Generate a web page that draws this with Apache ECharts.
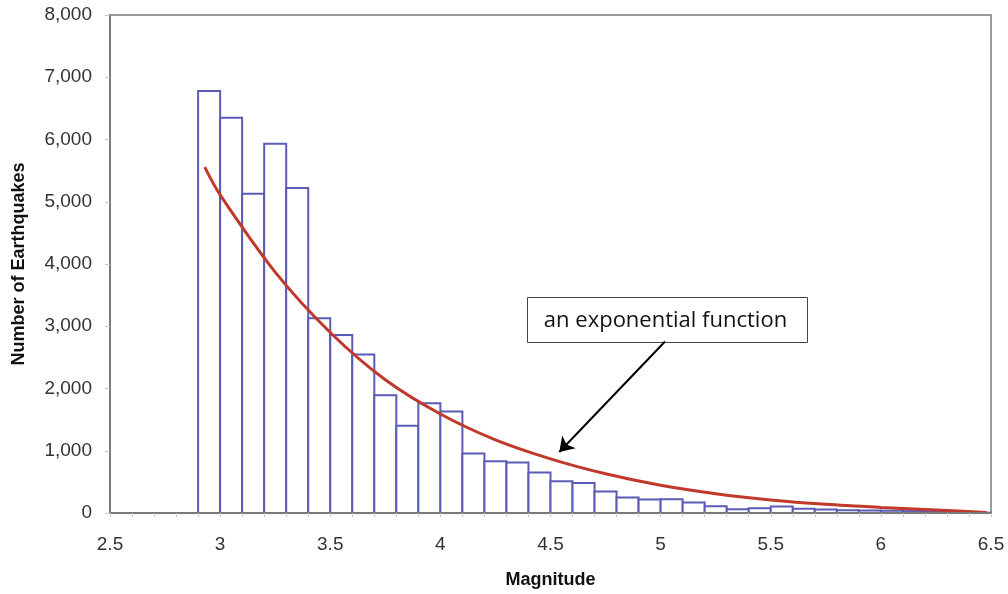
<!DOCTYPE html>
<html>
<head>
<meta charset="utf-8">
<title>Earthquake magnitudes</title>
<script src="https://cdn.jsdelivr.net/npm/echarts@6/dist/echarts.min.js"></script>
<style>
  html, body { margin: 0; padding: 0; background: #fff; }
  #mychart1 { width: 1008px; height: 594px; }
</style>
</head>
<body>
<div id="mychart1"></div>
<script>
// bin left edges (magnitude), width 0.1
const binStart = [2.9, 3.0, 3.1, 3.2, 3.3, 3.4, 3.5, 3.6, 3.7, 3.8, 3.9, 4.0,
  4.1, 4.2, 4.3, 4.4, 4.5, 4.6, 4.7, 4.8, 4.9, 5.0, 5.1, 5.2,
  5.3, 5.4, 5.5, 5.6, 5.7, 5.8, 5.9, 6.0, 6.1, 6.2, 6.3, 6.4];
const binEnd = [3.0, 3.1, 3.2, 3.3, 3.4, 3.5, 3.6, 3.7, 3.8, 3.9, 4.0, 4.1,
  4.2, 4.3, 4.4, 4.5, 4.6, 4.7, 4.8, 4.9, 5.0, 5.1, 5.2, 5.3,
  5.4, 5.5, 5.6, 5.7, 5.8, 5.9, 6.0, 6.1, 6.2, 6.3, 6.4, 6.5];
// number of earthquakes per bin
const counts = [6780, 6350, 5130, 5930, 5220, 3130, 2860, 2545, 1890, 1400, 1765, 1630,
  955, 830, 810, 650, 510, 480, 345, 250, 218, 220, 170, 110,
  60, 78, 103, 70, 58, 43, 40, 37, 30, 20, 12, 6];

// exponential fit
const fitMag = [2.93, 3.0, 3.25, 3.5, 3.75, 4.0, 4.25, 4.5, 4.75, 5.0,
  5.25, 5.5, 5.75, 6.0, 6.25, 6.48];
const fitVal = [5556, 5110, 3870, 2900, 2140, 1590, 1175, 870, 630, 445,
  310, 210, 140, 90, 48, 10];

// arrow of the annotation (data coords)
const arrowFrom = [5.02, 2756];
const arrowTo = [4.54, 980];

const histData = binStart.map((lo, i) => [lo, binEnd[i], counts[i]]);
const fitData = fitMag.map((m, i) => [m, fitVal[i]]);

const option = {
  animation: false,
  grid: {
    left: 110, right: 17, top: 15, bottom: 80,
    containLabel: false,
    show: true,
    borderColor: '#7a7a7a',
    borderWidth: 1.5
  },
  xAxis: {
    type: 'value',
    min: 2.5,
    max: 6.5,
    interval: 0.5,
    z: 5,
    name: 'Magnitude',
    nameLocation: 'middle',
    nameGap: 58,
    nameTextStyle: { fontFamily: 'Liberation Sans', fontWeight: 'bold', fontSize: 18, color: '#111' },
    axisLine: { show: true, lineStyle: { color: '#7a7a7a', width: 2 } },
    axisTick: { show: true, length: 4, lineStyle: { color: '#c8c8c8', width: 1 } },
    minorTick: { show: true, splitNumber: 5, length: 4, lineStyle: { color: '#c8c8c8', width: 1 } },
    splitLine: { show: false },
    axisLabel: { fontFamily: 'Liberation Sans', fontSize: 19, color: '#333', margin: 22 }
  },
  yAxis: {
    type: 'value',
    min: 0,
    max: 8000,
    interval: 1000,
    z: 5,
    name: 'Number of Earthquakes',
    nameLocation: 'middle',
    nameGap: 82,
    nameTextStyle: { fontFamily: 'Liberation Sans', fontWeight: 'bold', fontSize: 18, color: '#111' },
    axisLine: { show: true, lineStyle: { color: '#7a7a7a', width: 2 } },
    axisTick: { show: true, length: 5, inside: false, lineStyle: { color: '#c8c8c8', width: 1 } },
    splitLine: { show: false },
    axisLabel: {
      fontFamily: 'Liberation Sans', fontSize: 19, color: '#333', margin: 18,
      formatter: v => v.toLocaleString('en-US')
    }
  },
  series: [
    {
      // histogram bins
      type: 'custom',
      z: 2,
      data: histData,
      encode: { x: [0, 1], y: 2 },
      renderItem: function (params, api) {
        const top = api.coord([api.value(0), api.value(2)]);
        const base = api.coord([api.value(1), 0]);
        return {
          type: 'rect',
          shape: { x: top[0], y: top[1], width: base[0] - top[0], height: base[1] - top[1] },
          style: { fill: '#ffffff', stroke: '#5b5bb8', lineWidth: 2 }
        };
      }
    },
    {
      // exponential function
      type: 'line',
      z: 4,
      data: fitData,
      smooth: 0.3,
      symbol: 'none',
      lineStyle: { color: '#c0392b', width: 3 },
      markLine: {
        silent: true,
        symbol: ['none', 'arrow'],
        symbolSize: 14,
        label: { show: false },
        lineStyle: { color: '#000', width: 2, type: 'solid' },
        data: [[{ coord: arrowFrom }, { coord: arrowTo }]]
      }
    }
  ],
  graphic: [
    {
      type: 'group',
      left: 527,
      top: 297,
      z: 10,
      children: [
        {
          type: 'rect',
          shape: { x: 0, y: 0, width: 280, height: 45 },
          style: { fill: '#fff', stroke: '#444', lineWidth: 1 }
        },
        {
          type: 'text',
          x: 138,
          y: 23,
          style: {
            text: 'an exponential function',
            fontFamily: 'Open Sans',
            fontSize: 22,
            fill: '#111',
            align: 'center',
            verticalAlign: 'middle'
          }
        }
      ]
    }
  ]
};

const myChart = echarts.init(document.getElementById('mychart1'));
myChart.setOption(option);
window.addEventListener('resize', () => {
  myChart.resize();
});
</script>
</body>
</html>
